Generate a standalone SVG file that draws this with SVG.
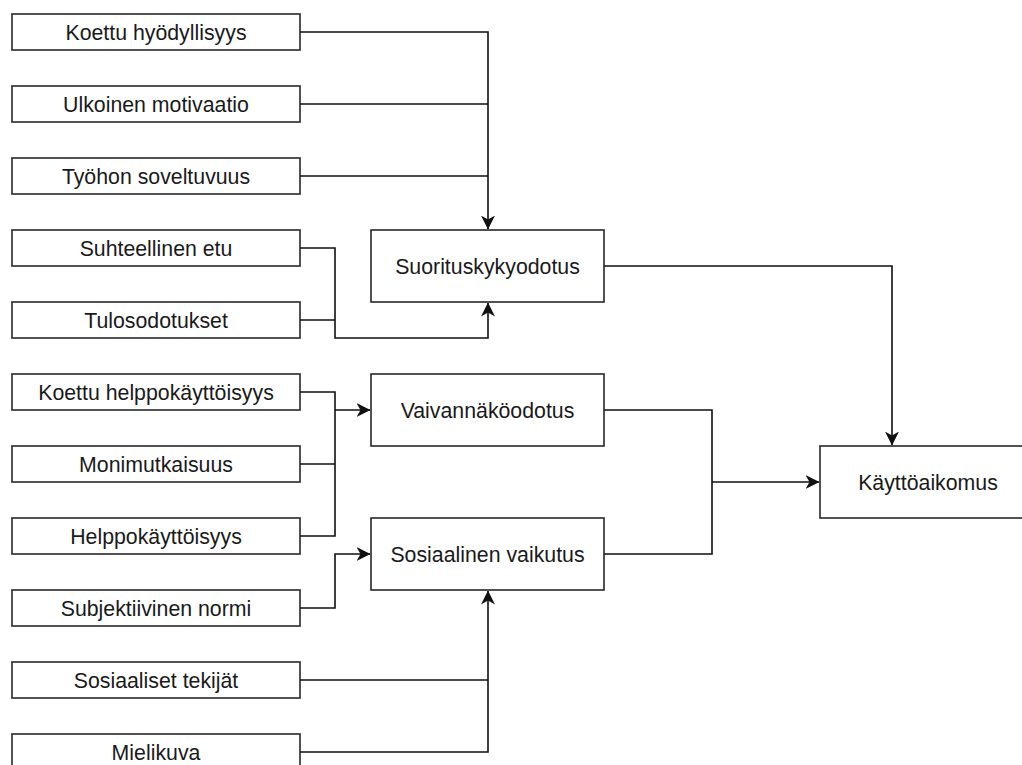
<svg xmlns="http://www.w3.org/2000/svg" width="1022" height="765" viewBox="0 0 1022 765">
<style>
.box{fill:#ffffff;stroke:#1a1a1a;stroke-width:1.5}
.lbl{font-family:"Liberation Sans",Arial,Helvetica,sans-serif;font-size:21.3px;fill:#1a1a1a;text-anchor:middle}
.edge{fill:none;stroke:#111111;stroke-width:1.6}
</style>
<defs>
<marker id="arr" viewBox="0 0 14 14" refX="13.5" refY="7" markerWidth="14" markerHeight="14" markerUnits="userSpaceOnUse" orient="auto">
<path d="M14,7 L0,0 L4,7 L0,14 Z" fill="#111111"/>
</marker>
</defs>
<rect width="1022" height="765" fill="#ffffff"/>
<g id="connectors">
<path class="edge" d="M300,32 H488 V229" marker-end="url(#arr)"/>
<path class="edge" d="M300,104 H488"/>
<path class="edge" d="M300,176 H488"/>
<path class="edge" d="M300,248 H335 V338 H488 V303" marker-end="url(#arr)"/>
<path class="edge" d="M300,320 H335"/>
<path class="edge" d="M300,392 H335 V536 H300"/>
<path class="edge" d="M300,464 H335"/>
<path class="edge" d="M335,410 H370" marker-end="url(#arr)"/>
<path class="edge" d="M300,608 H335 V554 H370" marker-end="url(#arr)"/>
<path class="edge" d="M300,680 H488"/>
<path class="edge" d="M300,752 H488 V591" marker-end="url(#arr)"/>
<path class="edge" d="M604,266 H892 V445" marker-end="url(#arr)"/>
<path class="edge" d="M604,410 H712 V554 H604"/>
<path class="edge" d="M712,482 H819" marker-end="url(#arr)"/>
</g>
<g id="n1"><rect class="box" x="12" y="14" width="288" height="36"/><text class="lbl" x="156" y="40">Koettu hyödyllisyys</text></g>
<g id="n2"><rect class="box" x="12" y="86" width="288" height="36"/><text class="lbl" x="156" y="112">Ulkoinen motivaatio</text></g>
<g id="n3"><rect class="box" x="12" y="158" width="288" height="36"/><text class="lbl" x="156" y="184">Työhon soveltuvuus</text></g>
<g id="n4"><rect class="box" x="12" y="230" width="288" height="36"/><text class="lbl" x="156" y="256">Suhteellinen etu</text></g>
<g id="n5"><rect class="box" x="12" y="302" width="288" height="36"/><text class="lbl" x="156" y="328">Tulosodotukset</text></g>
<g id="n6"><rect class="box" x="12" y="374" width="288" height="36"/><text class="lbl" x="156" y="400">Koettu helppokäyttöisyys</text></g>
<g id="n7"><rect class="box" x="12" y="446" width="288" height="36"/><text class="lbl" x="156" y="472">Monimutkaisuus</text></g>
<g id="n8"><rect class="box" x="12" y="518" width="288" height="36"/><text class="lbl" x="156" y="544">Helppokäyttöisyys</text></g>
<g id="n9"><rect class="box" x="12" y="590" width="288" height="36"/><text class="lbl" x="156" y="616">Subjektiivinen normi</text></g>
<g id="n10"><rect class="box" x="12" y="662" width="288" height="36"/><text class="lbl" x="156" y="688">Sosiaaliset tekijät</text></g>
<g id="n11"><rect class="box" x="12" y="734" width="288" height="36"/><text class="lbl" x="156" y="760">Mielikuva</text></g>
<g id="m1"><rect class="box" x="371" y="230" width="233" height="72"/><text class="lbl" x="487.5" y="274">Suorituskykyodotus</text></g>
<g id="m2"><rect class="box" x="371" y="374" width="233" height="72"/><text class="lbl" x="487.5" y="418">Vaivannäköodotus</text></g>
<g id="m3"><rect class="box" x="371" y="518" width="233" height="72"/><text class="lbl" x="487.5" y="562">Sosiaalinen vaikutus</text></g>
<g id="k1"><rect class="box" x="820" y="446" width="216" height="72"/><text class="lbl" x="928" y="490">Käyttöaikomus</text></g>
</svg>
